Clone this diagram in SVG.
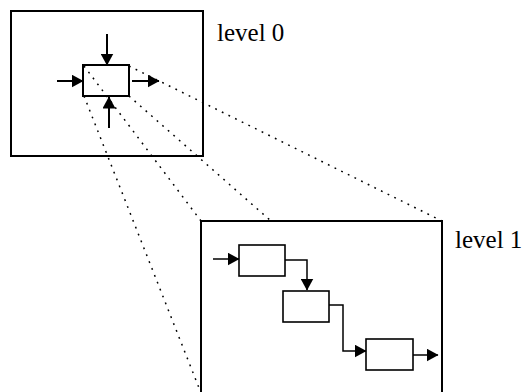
<svg xmlns="http://www.w3.org/2000/svg" width="526" height="392" viewBox="0 0 526 392">
<style>
.frame{fill:#fff;stroke:#000;stroke-width:2}
.box{fill:#fff;stroke:#000;stroke-width:2}
.box1{fill:#fff;stroke:#000;stroke-width:1.6}
.arr{fill:none;stroke:#000;stroke-width:2;marker-end:url(#ah)}
.arr1{fill:none;stroke:#000;stroke-width:1.5;marker-end:url(#ah)}
.dot{fill:none;stroke:#000;stroke-width:1.5;stroke-dasharray:1.8 5.6}
.lbl{font-family:"Liberation Serif","Times New Roman",serif;font-size:25px;fill:#000}
</style>
<defs>
<marker id="ah" markerUnits="userSpaceOnUse" markerWidth="12" markerHeight="13" refX="11.5" refY="6.5" orient="auto" viewBox="0 0 12 13">
<path d="M0,0 L12,6.5 L0,13 z" fill="#000"/>
</marker>
</defs>
<g id="level0">
<rect class="frame" x="11" y="11" width="192" height="145"/>
<rect class="box" x="83" y="65" width="46" height="31"/>
</g>
<g id="level0-label"><text class="lbl" x="217" y="41">level 0</text></g>
<g id="connectors-dotted">
<line class="dot" x1="84" y1="66" x2="201" y2="221"/>
<line class="dot" x1="129" y1="66" x2="442" y2="221"/>
<line class="dot" x1="129" y1="96" x2="271" y2="221"/>
<line class="dot" x1="84" y1="96" x2="201" y2="393"/>
</g>
<g id="level1">
<rect class="frame" x="201" y="221" width="241" height="180"/>
</g>
<g id="level1-label"><text class="lbl" x="455" y="248">level 1</text></g>
<g id="step1"><rect class="box1" x="239" y="245" width="46" height="31"/></g>
<g id="step2"><rect class="box1" x="283" y="291" width="46" height="31"/></g>
<g id="step3"><rect class="box1" x="366" y="339" width="47" height="31"/></g>
<g id="connectors">
<line class="arr" x1="107" y1="34" x2="107" y2="65"/>
<line class="arr" x1="57" y1="81" x2="83" y2="81"/>
<line class="arr" x1="132" y1="81" x2="159" y2="81"/>
<line class="arr" x1="109" y1="128" x2="109" y2="97"/>
<line class="arr1" x1="213" y1="259" x2="239" y2="259"/>
<polyline class="arr1" points="285,260 307,260 307,290"/>
<polyline class="arr1" points="329,305 343,305 343,351 366,351"/>
<line class="arr1" x1="413" y1="355" x2="438" y2="355"/>
</g>
</svg>
